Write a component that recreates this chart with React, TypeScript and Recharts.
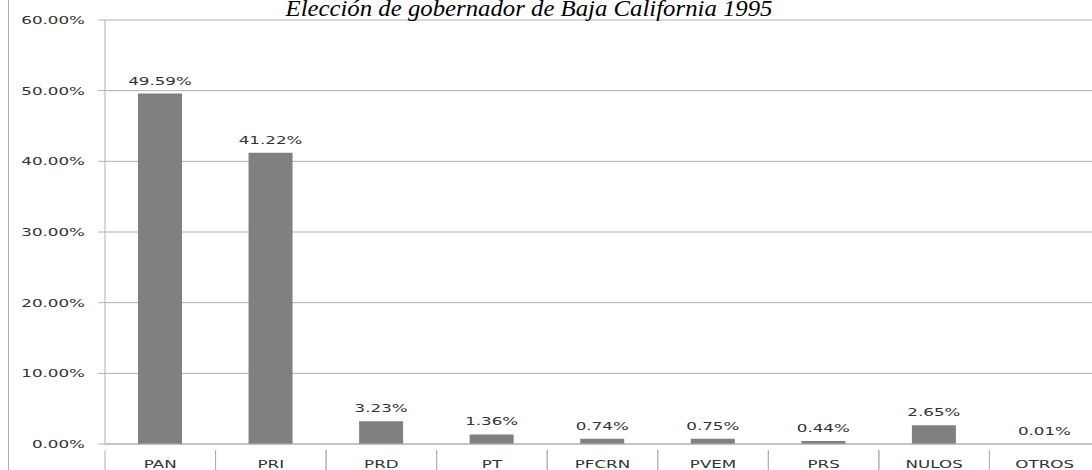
import { BarChart, Bar, XAxis, YAxis, CartesianGrid, LabelList, Customized } from "recharts";

// Resultados por partido (proporción de votos)
const partidos = ["PAN", "PRI", "PRD", "PT", "PFCRN", "PVEM", "PRS", "NULOS", "OTROS"];
const votos = [0.4959, 0.4122, 0.0323, 0.0136, 0.0074, 0.0075, 0.0044, 0.0265, 0.0001];
const yTicks = [0, 0.1, 0.2, 0.3, 0.4, 0.5, 0.6];
const titulo = "Elección de gobernador de Baja California 1995";

const data = partidos.map((name, i) => ({ name, value: votos[i] }));

const CHART_W = 1100;
const CHART_H = 470;
const AXIS_W = 105;
const HALF_BAND = (CHART_W - AXIS_W) / partidos.length / 2;
const GRID = "#b0b0b0";
const TEXT = "#333333";
const FONT = "'DejaVu Sans', Verdana, sans-serif";
const SX = 1.52;

const pct = (v: number) => `${(v * 100).toFixed(2)}%`;

const YTick = ({ x, y, payload }: any) => (
  <text
    transform={`translate(${x},${y}) scale(${SX},1)`}
    textAnchor="end"
    dy="0.36em"
    fontSize={11}
    fontFamily={FONT}
    fill={TEXT}
  >
    {pct(payload.value)}
  </text>
);

const XTick = ({ x, y, payload }: any) => (
  <g>
    <line x1={x - HALF_BAND} x2={x - HALF_BAND} y1={y - 3} y2={CHART_H} stroke={GRID} />
    <line x1={x + HALF_BAND} x2={x + HALF_BAND} y1={y - 3} y2={CHART_H} stroke={GRID} />
    <text
      transform={`translate(${x},${y}) scale(${SX},1)`}
      textAnchor="middle"
      dy={15}
      fontSize={11}
      fontFamily={FONT}
      fill={TEXT}
    >
      {payload.value}
    </text>
  </g>
);

const BarLabel = ({ x, y, width, value }: any) => (
  <text
    transform={`translate(${x + width / 2},${y - 9}) scale(${SX},1)`}
    textAnchor="middle"
    fontSize={11}
    fontFamily={FONT}
    fill={TEXT}
  >
    {pct(value)}
  </text>
);

const Title = () => (
  <text
    x={529}
    y={16}
    textAnchor="middle"
    fontSize={24}
    fontStyle="italic"
    fontFamily="'Liberation Serif', 'Times New Roman', serif"
    fill="#000"
    textLength={487}
    lengthAdjust="spacingAndGlyphs"
  >
    {titulo}
  </text>
);

export default function App() {
  return (
    <div
      style={{
        position: "fixed",
        left: 0,
        top: 0,
        width: 1092,
        height: 470,
        overflow: "hidden",
        background: "#fff",
      }}
    >
      <div
        style={{
          position: "absolute",
          left: 8,
          top: 0,
          width: 0,
          height: 470,
          borderLeft: `1px solid ${GRID}`,
        }}
      />
      <BarChart
        width={CHART_W}
        height={CHART_H}
        data={data}
        margin={{ top: 20, right: 0, bottom: 0, left: 0 }}
        barSize={44}
      >
        <CartesianGrid vertical={false} stroke={GRID} />
        <XAxis
          dataKey="name"
          height={26}
          axisLine={{ stroke: GRID }}
          tickLine={false}
          tick={<XTick />}
          interval={0}
          tickMargin={3}
        />
        <YAxis
          width={AXIS_W}
          domain={[0, 0.6]}
          ticks={yTicks}
          axisLine={{ stroke: GRID }}
          tickLine={{ stroke: GRID }}
          tickSize={7}
          tickMargin={13}
          tick={<YTick />}
        />
        <Bar dataKey="value" fill="#808080" isAnimationActive={false}>
          <LabelList dataKey="value" content={<BarLabel />} />
        </Bar>
        <Customized component={<Title />} />
      </BarChart>
    </div>
  );
}
